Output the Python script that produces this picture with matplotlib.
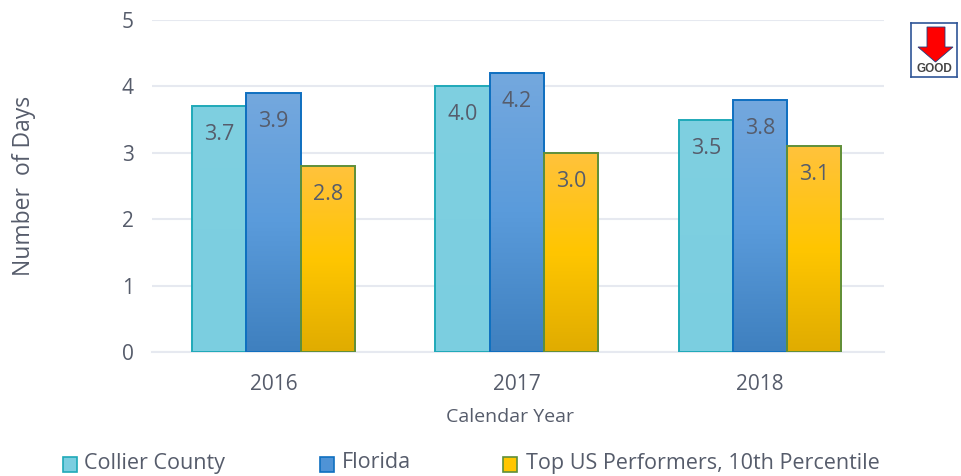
import numpy as np
import matplotlib
matplotlib.use("Agg")
import matplotlib.pyplot as plt
from matplotlib.colors import LinearSegmentedColormap
from matplotlib.patches import Polygon, Rectangle

plt.rcParams["font.family"] = ["Open Sans", "DejaVu Sans"]

years = ["2016", "2017", "2018"]
series_names = ["Collier County", "Florida", "Top US Performers, 10th Percentile"]
collier = [3.7, 4.0, 3.5]
florida = [3.9, 4.2, 3.8]
top_us = [2.8, 3.0, 3.1]
series = [collier, florida, top_us]

edges = ["#1fa9b8", "#0f6fc0", "#5f8f3a"]
fills = [
    ["#7fd0e1", "#7bcee0"],
    ["#74a8de", "#5a9bdb", "#3f80bf"],
    ["#ffc23c", "#ffc600", "#e0ac00"],
]
swatches = ["#7bcee0", "#4f93d6", "#ffc600"]
text_col = "#565c6b"
grid_col = "#e6e9f0"
W, H = 961, 476

fig = plt.figure(figsize=(W / 100, H / 100), dpi=100)
ax = fig.add_axes([152 / W, (H - 352) / H, 732 / W, 332 / H])

x = np.arange(len(years))
bar_w = 0.223
for i, vals in enumerate(series):
    bars = ax.bar(x + (i - 1) * bar_w, vals, bar_w, facecolor="none",
                  edgecolor=edges[i], linewidth=1.4, zorder=4)
    cmap = LinearSegmentedColormap.from_list(f"grad{i}", fills[i])
    for b in bars:
        # gradient per bar, clipped to the bar rectangle
        im = ax.imshow(np.linspace(0, 1, 100).reshape(-1, 1), cmap=cmap, aspect="auto",
                       extent=(b.get_x(), b.get_x() + b.get_width(), 0, b.get_height()),
                       zorder=3)
        im.set_clip_path(b)
    for xp, v in zip(x + (i - 1) * bar_w, vals):
        ax.annotate(f"{v:.1f}", (xp, v), xytext=(0, -28.5 * 0.72), textcoords="offset points",
                    ha="center", va="center", fontsize=15.5, color=text_col, zorder=5)

ax.set_xlim(-0.5, 2.51)
ax.set_ylim(0, 5)
ax.set_xticks(x, years)
ax.set_yticks(range(6))
ax.grid(axis="y", color=grid_col, linewidth=1.5, zorder=1)
ax.set_axisbelow(True)
ax.tick_params(length=0, labelsize=15, labelcolor=text_col)
ax.tick_params(axis="x", pad=16)
ax.tick_params(axis="y", pad=13)
for s in ["top", "right", "left"]:
    ax.spines[s].set_visible(False)
ax.spines["bottom"].set_color(grid_col)
ax.spines["bottom"].set_linewidth(1.5)

fig.text(24 / W, 1 - 186 / H, "Number  of Days", rotation=90, ha="center", va="center",
         fontsize=16.5, color=text_col)
fig.text(510 / W, 1 - 417 / H, "Calendar Year", ha="center", va="center",
         fontsize=14, color=text_col)

# legend placed by hand, the gaps are uneven
swatch_x = [63, 320, 503]
label_x = [84, 342, 526]
for i, name in enumerate(series_names):
    fig.add_artist(Rectangle((swatch_x[i] / W, 1 - 472 / H), 14 / W, 15 / H,
                             transform=fig.transFigure, facecolor=swatches[i],
                             edgecolor=edges[i], linewidth=1.2))
    fig.text(label_x[i] / W, 1 - 463 / H, name, ha="left", va="center",
             fontsize=15.5, color=text_col)

# "good" arrow badge
badge = fig.add_axes([911 / W, 1 - 77 / H, 46 / W, 54 / H])
badge.set_xlim(0, 46)
badge.set_ylim(54, 0)
badge.set_xticks([])
badge.set_yticks([])
for s in badge.spines.values():
    s.set_color("#2f5597")
    s.set_linewidth(1.2)
badge.add_patch(Polygon([(16, 4), (34, 4), (34, 24), (42, 24), (24.5, 39), (7, 24), (16, 24)],
                        facecolor="#ff0000", edgecolor="#1f3f7f", linewidth=0.6))
badge.text(23.5, 45.5, "GOOD", ha="center", va="center", fontsize=8.5, fontweight="bold",
           color="#444444", family=["Liberation Sans", "DejaVu Sans"])

fig.savefig("out.png", dpi=100)
